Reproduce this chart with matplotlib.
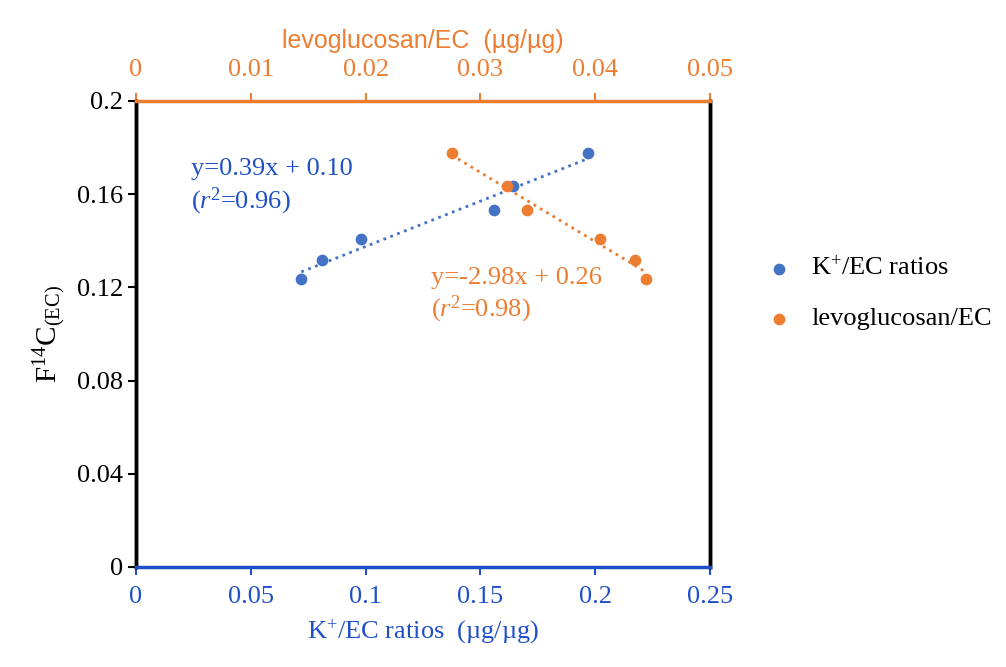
import numpy as np
import matplotlib
matplotlib.use("Agg")
import matplotlib.pyplot as plt

plt.rcParams["font.family"] = ["Liberation Serif", "DejaVu Serif"]
plt.rcParams["mathtext.fontset"] = "custom"
plt.rcParams["mathtext.rm"] = "Liberation Serif"
plt.rcParams["mathtext.it"] = "Liberation Serif:italic"

# data
k_ratio = [0.072, 0.081, 0.098, 0.156, 0.164, 0.197]
k_f14c = [0.1236, 0.1318, 0.1408, 0.1532, 0.1635, 0.1777]
levo_ratio = [0.0275, 0.0323, 0.0341, 0.0404, 0.0435, 0.0444]
levo_f14c = [0.1777, 0.1635, 0.1532, 0.1408, 0.1318, 0.1236]

blue = "#4472C4"
axis_blue = "#1F4FC8"
orange = "#ED7D31"
fs = 19

fig = plt.figure(figsize=(10.06, 6.67), dpi=100)
ax = fig.add_axes([0.1352, 0.150, 0.5706, 0.6987])
ax2 = ax.twiny()

ax.scatter(k_ratio, k_f14c, color=blue, s=55, zorder=3, label="K$^{+}$/EC ratios")
p = np.polyfit(k_ratio, k_f14c, 1)
xx = np.array([min(k_ratio), max(k_ratio)])
ax.plot(xx, np.polyval(p, xx), ":", color=blue, lw=2)

ax2.scatter(levo_ratio, levo_f14c, color=orange, s=55, zorder=3, label="levoglucosan/EC")
p2 = np.polyfit(levo_ratio, levo_f14c, 1)
xx2 = np.array([min(levo_ratio), max(levo_ratio)])
ax2.plot(xx2, np.polyval(p2, xx2), ":", color=orange, lw=2)

ax.set_xlim(0, 0.25)
ax.set_ylim(0, 0.2)
ax2.set_xlim(0, 0.05)
ax.set_xticks([0, 0.05, 0.1, 0.15, 0.2, 0.25])
ax.set_xticklabels(["0", "0.05", "0.1", "0.15", "0.2", "0.25"])
ax.set_yticks([0, 0.04, 0.08, 0.12, 0.16, 0.2])
ax.set_yticklabels(["0", "0.04", "0.08", "0.12", "0.16", "0.2"])
ax2.set_xticks([0, 0.01, 0.02, 0.03, 0.04, 0.05])
ax2.set_xticklabels(["0", "0.01", "0.02", "0.03", "0.04", "0.05"])

ax.tick_params(axis="x", colors=axis_blue, labelsize=fs, direction="out", length=6, width=1.5, pad=8)
ax.tick_params(axis="y", colors="black", labelsize=fs, direction="out", length=6, width=1.5)
ax2.tick_params(axis="x", colors=orange, labelsize=fs, direction="out", length=6, width=1.5, pad=8)

for a in (ax, ax2):
    a.spines["left"].set_linewidth(2.5)
    a.spines["right"].set_linewidth(2.5)
ax2.spines["bottom"].set_color(axis_blue)
ax2.spines["bottom"].set_linewidth(2.5)
ax2.spines["top"].set_color(orange)
ax2.spines["top"].set_linewidth(2.5)

ax.set_xlabel("K$^{+}$/EC ratios  (µg/µg)", fontsize=fs, color=axis_blue, labelpad=6)
ax.set_ylabel("F$^{14}$C$_{\\mathrm{(EC)}}$", fontsize=fs + 2, color="black", labelpad=6)
ax2.set_xlabel("levoglucosan/EC  (µg/µg)", fontsize=fs - 1, color=orange,
               family=["Liberation Sans", "DejaVu Sans"], labelpad=8)

ax.text(0.024, 0.168, "y=0.39x + 0.10", fontsize=fs, color=axis_blue)
ax.text(0.024, 0.154, "($\\it{r}$$^{2}$=0.96)", fontsize=fs, color=axis_blue)
ax2.text(0.0257, 0.1215, "y=-2.98x + 0.26", fontsize=fs, color=orange)
ax2.text(0.0257, 0.1075, "($\\it{r}$$^{2}$=0.98)", fontsize=fs, color=orange)

h1, l1 = ax.get_legend_handles_labels()
h2, l2 = ax2.get_legend_handles_labels()
fig.legend(h1 + h2, l1 + l2, loc="center left", bbox_to_anchor=(0.725, 0.56),
           frameon=False, fontsize=fs, handletextpad=0.2, labelspacing=1.0)

fig.savefig("out.png", dpi=100)
